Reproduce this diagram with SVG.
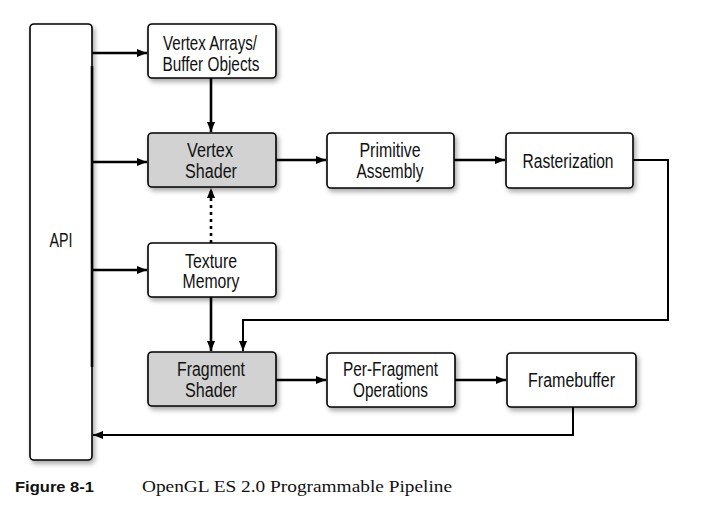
<svg xmlns="http://www.w3.org/2000/svg" width="702" height="508" viewBox="0 0 702 508">
<style>
.box{fill:#fff;stroke:#000;stroke-width:1.6}
.gray{fill:#d2d2d2}
.t{font-family:"Liberation Sans",Arial,sans-serif;font-size:19.5px;fill:#111;text-anchor:middle}
.ln{fill:none;stroke:#000;stroke-width:2.6}
.thin{fill:none;stroke:#000;stroke-width:2}
</style>
<defs>
<filter id="sh" x="-20%" y="-20%" width="150%" height="160%">
<feDropShadow dx="2" dy="3" stdDeviation="2.5" flood-color="#000" flood-opacity="0.35"/>
</filter>
<marker id="ah" viewBox="0 0 10 8" refX="10" refY="4" markerWidth="10" markerHeight="8" markerUnits="userSpaceOnUse" orient="auto">
<path d="M0,0 L10,4 L0,8 Z" fill="#000"/>
</marker>
</defs>
<rect width="702" height="508" fill="#fff"/>

<g id="api">
<rect class="box" x="30" y="24" width="62" height="436" rx="4" filter="url(#sh)"/>
<text class="t" x="61" y="247" textLength="23" lengthAdjust="spacingAndGlyphs">API</text>
</g>
<g id="vertex-arrays">
<rect class="box" x="148" y="24" width="128" height="54" rx="4" filter="url(#sh)"/>
<text class="t" x="210" y="50" textLength="94" lengthAdjust="spacingAndGlyphs">Vertex Arrays/</text>
<text class="t" x="211" y="71" textLength="97" lengthAdjust="spacingAndGlyphs">Buffer Objects</text>
</g>
<g id="vertex-shader">
<rect class="box gray" x="148" y="133" width="128" height="54" rx="4" filter="url(#sh)"/>
<text class="t" x="210" y="157" textLength="46" lengthAdjust="spacingAndGlyphs">Vertex</text>
<text class="t" x="211" y="178" textLength="52" lengthAdjust="spacingAndGlyphs">Shader</text>
</g>
<g id="primitive-assembly">
<rect class="box" x="327" y="133" width="127" height="55" rx="4" filter="url(#sh)"/>
<text class="t" x="390" y="157" textLength="61" lengthAdjust="spacingAndGlyphs">Primitive</text>
<text class="t" x="390" y="178" textLength="67" lengthAdjust="spacingAndGlyphs">Assembly</text>
</g>
<g id="rasterization">
<rect class="box" x="506" y="133" width="127" height="55" rx="4" filter="url(#sh)"/>
<text class="t" x="568" y="168" textLength="91" lengthAdjust="spacingAndGlyphs">Rasterization</text>
</g>
<g id="texture-memory">
<rect class="box" x="148" y="243" width="128" height="54" rx="4" filter="url(#sh)"/>
<text class="t" x="211" y="268" textLength="52" lengthAdjust="spacingAndGlyphs">Texture</text>
<text class="t" x="211" y="288" textLength="57" lengthAdjust="spacingAndGlyphs">Memory</text>
</g>
<g id="fragment-shader">
<rect class="box gray" x="148" y="352" width="128" height="54" rx="4" filter="url(#sh)"/>
<text class="t" x="211" y="376" textLength="68" lengthAdjust="spacingAndGlyphs">Fragment</text>
<text class="t" x="211" y="397" textLength="52" lengthAdjust="spacingAndGlyphs">Shader</text>
</g>
<g id="per-fragment">
<rect class="box" x="327" y="353" width="128" height="54" rx="4" filter="url(#sh)"/>
<text class="t" x="390.5" y="376" textLength="95" lengthAdjust="spacingAndGlyphs">Per-Fragment</text>
<text class="t" x="390.5" y="397" textLength="75" lengthAdjust="spacingAndGlyphs">Operations</text>
</g>
<g id="framebuffer">
<rect class="box" x="507" y="353" width="129" height="54" rx="4" filter="url(#sh)"/>
<text class="t" x="571.5" y="387" textLength="87" lengthAdjust="spacingAndGlyphs">Framebuffer</text>
</g>

<g id="connectors">
<line class="ln" x1="92" y1="66" x2="92" y2="367" stroke-width="3"/>
<line class="ln" x1="92" y1="53" x2="147" y2="53" marker-end="url(#ah)"/>
<line class="ln" x1="92" y1="162" x2="147" y2="162" marker-end="url(#ah)"/>
<line class="ln" x1="92" y1="270" x2="147" y2="270" marker-end="url(#ah)"/>
<line class="ln" x1="211" y1="78" x2="211" y2="132" marker-end="url(#ah)"/>
<line class="ln" x1="276" y1="160" x2="326" y2="160" marker-end="url(#ah)"/>
<line class="ln" x1="454" y1="160" x2="505" y2="160" marker-end="url(#ah)"/>
<line class="ln" x1="211" y1="243" x2="211" y2="188" stroke-dasharray="3,4" stroke-width="2" marker-end="url(#ah)"/>
<line class="ln" x1="211" y1="297" x2="211" y2="351" marker-end="url(#ah)"/>
<polyline class="thin" points="633,160 668,160 668,320 243,320 243,351" marker-end="url(#ah)"/>
<line class="ln" x1="276" y1="380" x2="326" y2="380" marker-end="url(#ah)"/>
<line class="ln" x1="455" y1="380" x2="506" y2="380" marker-end="url(#ah)"/>
<polyline class="thin" points="573,407 573,435 93,435" marker-end="url(#ah)"/>
</g>

<g id="caption">
<text x="15" y="492" font-family="Liberation Sans,Arial,sans-serif" font-weight="bold" font-size="15" fill="#111" textLength="79" lengthAdjust="spacingAndGlyphs">Figure 8-1</text>
<text x="142" y="492" font-family="Liberation Serif,Times New Roman,serif" font-size="17" fill="#111" textLength="310" lengthAdjust="spacingAndGlyphs">OpenGL ES 2.0 Programmable Pipeline</text>
</g>
</svg>
